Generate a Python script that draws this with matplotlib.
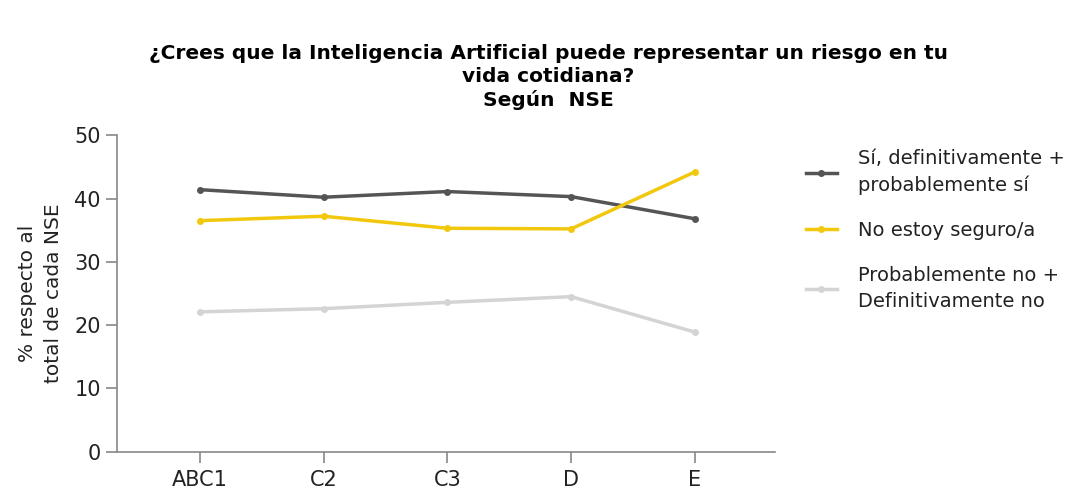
import matplotlib.pyplot as plt

plt.rcParams['font.family'] = ['DejaVu Sans']

nse = ['ABC1', 'C2', 'C3', 'D', 'E']
si = [41.4, 40.2, 41.1, 40.3, 36.8]
no_seguro = [36.5, 37.2, 35.3, 35.2, 44.2]
no = [22.1, 22.6, 23.6, 24.5, 18.9]

labels = ['Sí, definitivamente +\nprobablemente sí',
          'No estoy seguro/a',
          'Probablemente no +\nDefinitivamente no']
colores = ['#555555', '#f2c80f', '#d4d4d4']

fig = plt.figure(figsize=(10.92, 4.97), dpi=100)
ax = fig.add_axes([0.107, 0.091, 0.603, 0.637])

x = range(len(nse))
for serie, lab, c in zip([si, no_seguro, no], labels, colores):
    ax.plot(x, serie, color=c, lw=2.5, marker='o', ms=4, label=lab)

ax.set_xticks(list(x))
ax.set_xticklabels(nse)
ax.set_xlim(-0.67, 4.65)
ax.set_ylim(0, 50)
ax.set_yticks([0, 10, 20, 30, 40, 50])
ax.tick_params(labelsize=15, color='#888888', length=8, width=1.2,
               labelcolor='#222222')
ax.tick_params(axis='x', pad=5)
for s in ['top', 'right']:
    ax.spines[s].set_visible(False)
for s in ['left', 'bottom']:
    ax.spines[s].set_color('#888888')
    ax.spines[s].set_linewidth(1.2)
ax.set_ylabel('% respecto al\ntotal de cada NSE', fontsize=14.5, labelpad=8,
              color='#222222', linespacing=1.5)

fig.suptitle('¿Crees que la Inteligencia Artificial puede representar un riesgo en tu\n'
             'vida cotidiana?\nSegún  NSE', fontsize=14.5, fontweight='bold',
             x=0.502, y=0.912, linespacing=1.27)

leg = fig.legend(loc='upper left', bbox_to_anchor=(0.722, 0.735), frameon=False,
                 fontsize=14, handlelength=1.6, handletextpad=1.1,
                 labelspacing=1.35, labelcolor='#222222')
for t in leg.get_texts():
    t.set_linespacing(1.45)

fig.savefig('out.png', dpi=100)
